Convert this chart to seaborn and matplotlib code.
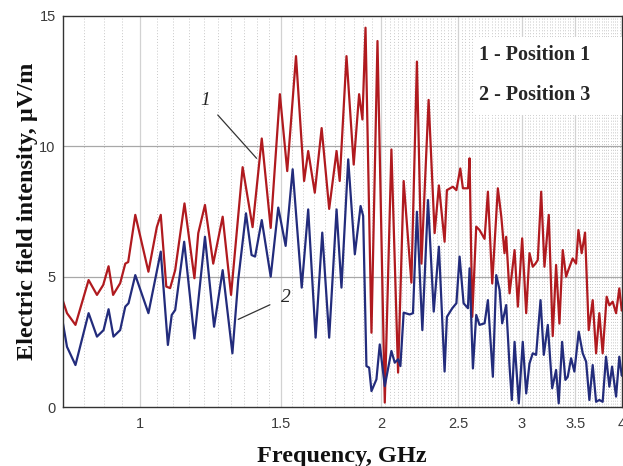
import numpy as np
import pandas as pd
import matplotlib
matplotlib.use("Agg")
import matplotlib.pyplot as plt
import seaborn as sns
from matplotlib.ticker import FixedLocator, NullFormatter
from matplotlib.patches import Rectangle

# ---------------- data ----------------
freq_pos1 = [0.800, 0.810, 0.830, 0.862, 0.883, 0.899, 0.913, 0.925, 0.944, 0.958, 0.966, 0.986,
             1.024, 1.049, 1.061, 1.078, 1.090, 1.106, 1.136, 1.169, 1.182, 1.205, 1.234, 1.268,
             1.299, 1.343, 1.382, 1.419, 1.456, 1.495, 1.527, 1.566, 1.603, 1.622, 1.653, 1.686,
             1.723, 1.760, 1.776, 1.811, 1.849, 1.878, 1.896, 1.913, 1.946, 1.980, 2.022, 2.061,
             2.101, 2.135, 2.183, 2.218, 2.247, 2.294, 2.334, 2.363, 2.402, 2.418, 2.460, 2.485,
             2.513, 2.532, 2.569, 2.581, 2.601, 2.631, 2.656, 2.695, 2.721, 2.755, 2.800, 2.828,
             2.854, 2.868, 2.896, 2.938, 2.966, 3.003, 3.038, 3.067, 3.096, 3.120, 3.141, 3.172,
             3.202, 3.242, 3.279, 3.311, 3.343, 3.375, 3.408, 3.424, 3.473, 3.507, 3.531, 3.564,
             3.599, 3.637, 3.679, 3.715, 3.750, 3.786, 3.830, 3.860, 3.897, 3.935, 3.972, 4.000]
field_pos1 = [4.10, 3.60, 3.15, 4.87, 4.30, 4.68, 5.40, 4.30, 4.75, 5.50, 5.56, 7.37,
              5.19, 6.90, 7.37, 4.62, 4.56, 5.25, 7.81, 4.94, 6.67, 7.75, 5.50, 7.30,
              4.30, 9.20, 6.90, 10.30, 6.87, 12.00, 9.05, 13.46, 8.67, 9.82, 8.22, 10.70,
              7.60, 9.82, 8.67, 13.46, 9.30, 12.00, 11.03, 14.55, 2.85, 14.04, 0.17, 9.88,
              1.32, 8.67, 4.77, 13.25, 5.50, 11.78, 6.67, 8.50, 6.34, 8.32, 8.45, 8.32,
              9.15, 8.39, 8.39, 9.54, 3.46, 6.92, 6.79, 6.45, 8.26, 4.74, 8.39, 7.30,
              5.90, 6.53, 4.36, 6.02, 3.85, 6.47, 3.60, 5.90, 5.38, 5.50, 5.64, 8.26,
              5.38, 7.37, 2.72, 5.45, 3.20, 6.02, 5.00, 5.19, 5.70, 5.50, 6.79, 5.90,
              6.69, 2.95, 4.10, 2.06, 3.60, 2.06, 4.23, 3.90, 4.04, 3.60, 4.55, 3.70]

freq_pos3 = [0.800, 0.810, 0.830, 0.862, 0.883, 0.900, 0.913, 0.926, 0.944, 0.958, 0.967, 0.986,
             1.024, 1.061, 1.083, 1.095, 1.106, 1.135, 1.169, 1.205, 1.237, 1.268, 1.304, 1.326,
             1.356, 1.378, 1.392, 1.419, 1.456, 1.488, 1.520, 1.551, 1.592, 1.622, 1.657, 1.689,
             1.723, 1.760, 1.785, 1.820, 1.855, 1.886, 1.900, 1.918, 1.933, 1.946, 1.974, 1.993,
             2.022, 2.061, 2.081, 2.101, 2.115, 2.135, 2.172, 2.193, 2.218, 2.253, 2.290, 2.328,
             2.363, 2.402, 2.418, 2.456, 2.485, 2.508, 2.537, 2.569, 2.581, 2.606, 2.631, 2.656,
             2.695, 2.721, 2.760, 2.787, 2.814, 2.835, 2.868, 2.896, 2.915, 2.938, 2.974, 3.008,
             3.038, 3.067, 3.096, 3.126, 3.166, 3.196, 3.233, 3.274, 3.311, 3.336, 3.369, 3.401,
             3.424, 3.457, 3.490, 3.534, 3.575, 3.610, 3.644, 3.679, 3.715, 3.750, 3.786, 3.823,
             3.860, 3.890, 3.935, 3.972, 4.000]
field_pos3 = [3.27, 2.31, 1.61, 3.60, 2.70, 2.95, 3.75, 2.70, 2.95, 3.85, 3.98, 5.06,
              3.60, 5.96, 2.38, 3.53, 3.72, 6.34, 2.63, 6.53, 3.08, 5.25, 2.06, 4.87,
              7.43, 5.83, 5.77, 7.17, 5.00, 7.65, 6.18, 9.12, 4.58, 7.58, 2.66, 6.69,
              2.66, 7.58, 4.58, 9.50, 5.86, 7.71, 7.33, 1.57, 1.51, 0.61, 1.06, 2.40,
              0.80, 2.15, 1.70, 1.83, 1.57, 3.62, 3.55, 3.60, 7.49, 2.95, 7.94, 3.66,
              6.15, 1.36, 3.46, 3.79, 3.98, 5.77, 3.98, 3.79, 5.32, 1.48, 3.53, 3.15,
              3.21, 4.10, 1.16, 5.06, 4.49, 3.21, 3.91, 1.55, 0.27, 2.50, 0.14, 2.50,
              0.52, 1.67, 2.06, 2.00, 4.10, 2.00, 3.15, 0.72, 1.42, 0.14, 2.50, 1.04,
              1.16, 1.87, 1.36, 2.89, 2.06, 1.74, 0.27, 1.61, 0.20, 0.27, 0.20, 1.93,
              0.78, 1.55, 0.40, 1.93, 1.20]

series_names = ["Position 1", "Position 3"]
legend_lines = ["1 - Position 1", "2 - Position 3"]
x_ticks = [1, 1.5, 2, 2.5, 3, 3.5, 4]
x_tick_labels = ["1", "1.5", "2", "2.5", "3", "3.5", "4"]
y_ticks = [0, 5, 10, 15]

df = pd.concat([
    pd.DataFrame({"freq": freq_pos1, "field": field_pos1, "series": series_names[0]}),
    pd.DataFrame({"freq": freq_pos3, "field": field_pos3, "series": series_names[1]}),
], ignore_index=True)

# ---------------- style ----------------
sns.set_style("white")
plt.rcParams["font.family"] = ["Liberation Sans", "DejaVu Sans"]

fig = plt.figure(figsize=(6.23, 4.66), dpi=100)
ax = fig.add_axes([0.1006, 0.1266, 0.8974, 0.8391])

palette = {series_names[0]: "#B01A1F", series_names[1]: "#232C7C"}
sns.lineplot(data=df, x="freq", y="field", hue="series", palette=palette,
             linewidth=1.6, ax=ax, legend=False, estimator=None, sort=False)
for ln in ax.lines:
    ln.set_solid_joinstyle("round")

ax.set_xscale("log")
ax.set_xlim(0.8, 4.0)
ax.set_ylim(0, 15)

# grid
minor_x = [round(v, 3) for v in np.arange(0.85, 2.0, 0.05)] + \
          [round(v, 3) for v in np.arange(2.025, 4.0, 0.025)]
minor_x = [v for v in minor_x if all(abs(v - t) > 1e-6 for t in x_ticks)]
for v in minor_x:
    ax.axvline(v, color="#C8C8C8", linestyle=(0, (1, 2)), linewidth=0.7, zorder=0)
for v in x_ticks[:-1]:
    ax.axvline(v, color="#D2D2D2", linewidth=0.9, zorder=0)
for v in [5, 10]:
    ax.axhline(v, color="#A8A8A8", linewidth=0.9, zorder=0)

ax.xaxis.set_major_locator(FixedLocator(x_ticks))
ax.xaxis.set_minor_locator(FixedLocator([]))
ax.xaxis.set_minor_formatter(NullFormatter())
ax.set_xticklabels(x_tick_labels)
ax.set_yticks(y_ticks)
ax.tick_params(axis="both", labelsize=10.5, colors="#3A3A3A", length=3, direction="in",
               pad=5)
ax.tick_params(axis="x", pad=7)

for side in ["left", "bottom", "top", "right"]:
    ax.spines[side].set_color("#333333")
    ax.spines[side].set_linewidth(1.0)

serif = ["Liberation Serif", "DejaVu Serif"]
ax.set_xlabel("Frequency, GHz", fontsize=17.5, fontweight="bold", family=serif,
              color="#111111", labelpad=11)
ax.set_ylabel("Electric field intensity, µV/m", fontsize=17.5, fontweight="bold",
              family=serif, color="#111111", labelpad=1)

# legend text box
ax.add_patch(Rectangle((0.738, 0.747), 0.262, 0.199, transform=ax.transAxes,
                       facecolor="white", edgecolor="none", zorder=3))
ax.text(0.745, 0.900, legend_lines[0], transform=ax.transAxes, ha="left", va="center",
        fontsize=14.5, fontweight="bold", family=serif, zorder=4)
ax.text(0.745, 0.798, legend_lines[1], transform=ax.transAxes, ha="left", va="center",
        fontsize=14.5, fontweight="bold", family=serif, zorder=4)

# curve annotations
ax.annotate("1", xy=(1.398, 9.54), xytext=(1.205, 11.75), fontsize=14, style="italic",
            family=serif, ha="center", va="center",
            arrowprops=dict(arrowstyle="-", color="#333333", lw=0.9, shrinkA=5, shrinkB=0))
ax.annotate("2", xy=(1.326, 3.36), xytext=(1.520, 4.2), fontsize=14, style="italic",
            family=serif, ha="center", va="center",
            arrowprops=dict(arrowstyle="-", color="#333333", lw=0.9, shrinkA=6, shrinkB=0))

fig.savefig("out.png", dpi=100)
